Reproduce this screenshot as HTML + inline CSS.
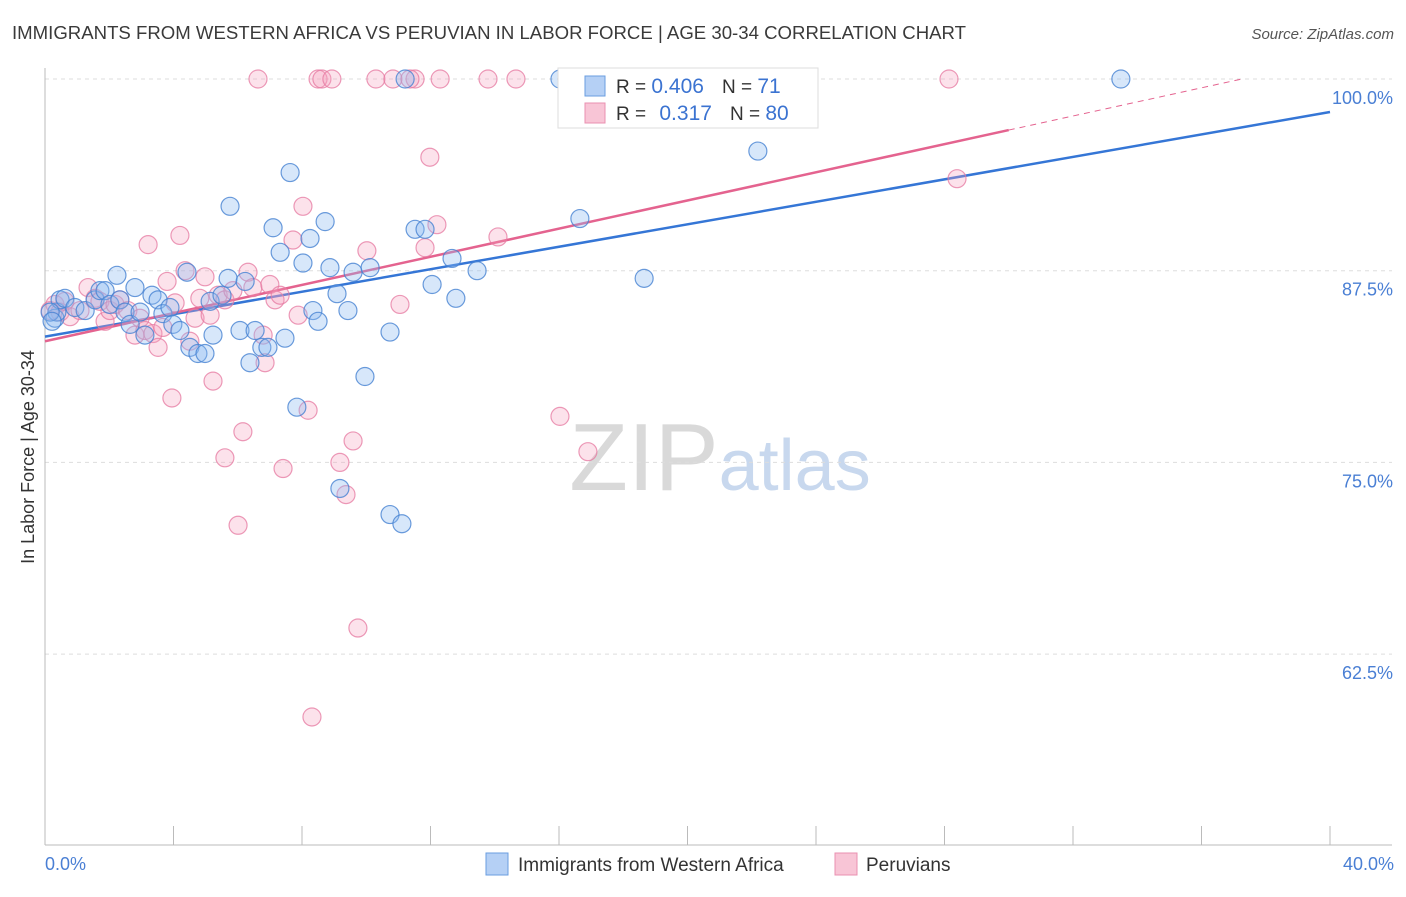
<!DOCTYPE html>
<html><head><meta charset="utf-8"><style>
body{margin:0;background:#fff;font-family:"Liberation Sans",sans-serif;}
svg text{font-family:"Liberation Sans",sans-serif;}
</style></head><body>
<svg id="chart" width="1406" height="892" xmlns="http://www.w3.org/2000/svg">
<text x="12" y="39" font-size="18" fill="#3a3a3a" textLength="954" lengthAdjust="spacingAndGlyphs">IMMIGRANTS FROM WESTERN AFRICA VS PERUVIAN IN LABOR FORCE | AGE 30-34 CORRELATION CHART</text>
<text x="1394" y="39" font-size="15" fill="#555" text-anchor="end" font-style="italic">Source: ZipAtlas.com</text>
<text x="720" y="490" font-size="96" fill="#d9d9d9" text-anchor="middle" font-family="Liberation Serif">ZIP<tspan fill="#c8d8ee" font-family="Liberation Sans" font-size="72">atlas</tspan></text>
<g id="grid"></g>
<g id="axes"></g>
<g id="trend"></g>
<g id="points"></g>
<text transform="translate(34,457) rotate(-90)" font-size="18" fill="#333" text-anchor="middle">In Labor Force | Age 30-34</text>
<text x="45" y="870" font-size="18" fill="#4a7fd4">0.0%</text>
<text x="1394" y="870" font-size="18" fill="#4a7fd4" text-anchor="end">40.0%</text>
<g>
<rect x="558" y="68" width="260" height="60" fill="#fff" stroke="#ddd"/>
<rect x="585" y="76" width="20" height="20" fill="#b5d0f5" stroke="#6a9ee0"/>
<rect x="585" y="103" width="20" height="20" fill="#f8c5d6" stroke="#ea90b0"/>
<text x="616" y="93" font-size="19" fill="#333">R = <tspan fill="#3b73d1" font-size="21">0.406</tspan><tspan dx="18">N = </tspan><tspan fill="#3b73d1" font-size="21">71</tspan></text>
<text x="616" y="120" font-size="19" fill="#333">R = <tspan dx="8" fill="#3b73d1" font-size="21">0.317</tspan><tspan dx="18">N = </tspan><tspan fill="#3b73d1" font-size="21">80</tspan></text>
</g>
<g>
<rect x="486" y="853" width="22" height="22" fill="#b5d0f5" stroke="#6a9ee0"/>
<text x="518" y="871" font-size="19" fill="#333">Immigrants from Western Africa</text>
<rect x="835" y="853" width="22" height="22" fill="#f8c5d6" stroke="#ea90b0"/>
<text x="866" y="871" font-size="19" fill="#333">Peruvians</text>
</g>
</svg>
<script>
const yTicks=[100,87.5,75,62.5];
const yTickLabels=["100.0%","87.5%","75.0%","62.5%"];
const xTicks=[0,4,8,12,16,20,24,28,32,36,40];
const blueX=[0.31,0.37,0.47,0.62,0.93,1.25,1.56,1.71,1.87,2.24,2.02,2.33,2.49,2.65,2.80,2.96,3.11,3.33,3.52,3.67,3.89,3.98,4.20,4.42,4.51,4.76,4.98,5.14,5.23,5.51,5.70,5.76,6.07,6.23,6.38,6.54,6.75,6.94,7.10,7.32,7.47,7.63,7.84,8.03,8.25,8.34,8.50,8.72,8.87,9.09,9.18,9.43,9.59,9.96,10.12,10.74,10.74,11.11,11.21,11.52,11.83,12.05,12.67,12.79,13.45,16.03,16.65,18.65,22.19,33.49,0.16,0.22];
const blueY=[84.4,84.8,85.6,85.7,85.1,84.9,85.6,86.2,86.2,87.2,85.3,85.6,84.8,84.0,86.4,84.8,83.3,85.9,85.6,84.7,85.1,84.0,83.6,87.4,82.5,82.1,82.1,85.5,83.3,85.9,87.0,91.7,83.6,86.8,81.5,83.6,82.5,82.5,90.3,88.7,83.1,93.9,78.6,88.0,89.6,84.9,84.2,90.7,87.7,86.0,73.3,84.9,87.4,80.6,87.7,83.5,71.6,71.0,100,90.2,90.2,86.6,88.3,85.7,87.5,100,90.9,87.0,95.3,100,84.8,84.2];
const pinkX=[0.16,0.31,0.47,0.62,0.78,1.09,1.34,1.56,1.71,1.87,2.02,2.18,2.33,2.58,2.80,2.96,3.11,3.21,3.36,3.52,3.67,3.80,3.95,4.05,4.20,4.36,4.51,4.67,4.82,4.98,5.14,5.23,5.39,5.60,5.85,6.01,6.16,5.60,6.32,6.47,6.63,6.79,6.85,7.00,7.16,7.32,7.41,7.72,7.88,8.03,8.19,8.31,8.50,8.62,8.93,9.18,9.37,9.59,9.74,10.02,10.30,10.83,11.05,11.52,11.83,11.98,12.20,12.30,13.79,14.10,14.66,16.03,16.90,22.41,28.14,28.39,11.36];
const pinkY=[84.9,85.3,84.8,85.5,84.5,84.9,86.4,85.7,85.5,84.2,84.9,85.3,85.6,84.9,83.3,84.4,83.6,89.2,83.4,82.5,83.8,86.8,79.2,85.4,89.8,87.5,82.9,84.4,85.7,87.1,84.6,80.3,85.9,85.6,86.2,70.9,77.0,75.3,87.4,86.4,100,83.3,81.5,86.6,85.6,85.9,74.6,89.5,84.6,91.7,78.4,58.4,100,100,100,75.0,72.9,76.4,64.2,88.8,100,100,85.3,100,89.0,94.9,90.5,100,100,89.7,100,78.0,75.7,100,100,93.5,100];
const blueTrend=[83.2,97.85]; // value at x=0 and x=40
const pinkTrend=[82.9,0.459]; // intercept, slope
const NS="http://www.w3.org/2000/svg";
const X=v=>45+v/40*1285;
const Y=v=>79+(100-v)/12.5*191.7;
function mk(tag,attrs,parent){const e=document.createElementNS(NS,tag);for(const k in attrs)e.setAttribute(k,attrs[k]);parent.appendChild(e);return e;}
const grid=document.getElementById('grid'),axes=document.getElementById('axes'),trend=document.getElementById('trend'),pts=document.getElementById('points');
yTicks.forEach((t,i)=>{
 const l=mk('line',{x1:45,x2:1392,y1:Y(t),y2:Y(t),stroke:'#ddd','stroke-dasharray':'4,4'},grid);
 
 
 const tx=mk('text',{x:1393,y:Y(t)+25,'font-size':18,fill:'#4a7fd4','text-anchor':'end'},grid);
 tx.textContent=yTickLabels[i];
 
 
});
let a=mk('line',{x1:45,x2:45,y1:68,y2:845,stroke:'#bbb'},axes);


a=mk('line',{x1:45,x2:1392,y1:845,y2:845,stroke:'#bbb'},axes);


xTicks.forEach(t=>{
 const l=mk('line',{x1:X(t),x2:X(t),y1:826,y2:845,stroke:'#bbb'},axes);
 
 
});
let tl=mk('line',{x1:X(0),y1:Y(blueTrend[0]),x2:X(40),y2:Y(blueTrend[1]),stroke:'#3576d6','stroke-width':2.5},trend);


const pEnd=30, pTop=(100-pinkTrend[0])/pinkTrend[1];
tl=mk('line',{x1:X(0),y1:Y(pinkTrend[0]),x2:X(pEnd),y2:Y(pinkTrend[0]+pinkTrend[1]*pEnd),stroke:'#e4638f','stroke-width':2.5},trend);


tl=mk('line',{x1:X(pEnd),y1:Y(pinkTrend[0]+pinkTrend[1]*pEnd),x2:X(pTop),y2:Y(100),stroke:'#e4638f','stroke-width':1,'stroke-dasharray':'6,5'},trend);


pinkX.forEach((x,i)=>{
 const c=mk('circle',{cx:X(x),cy:Y(pinkY[i]),r:9,fill:'rgba(244,160,190,0.3)',stroke:'rgba(230,120,160,0.75)','stroke-width':1.2},pts);
 
 
});
blueX.forEach((x,i)=>{
 const c=mk('circle',{cx:X(x),cy:Y(blueY[i]),r:9,fill:'rgba(140,185,240,0.35)',stroke:'rgba(70,130,210,0.8)','stroke-width':1.2},pts);
 
 
});
</script>
</body></html>
